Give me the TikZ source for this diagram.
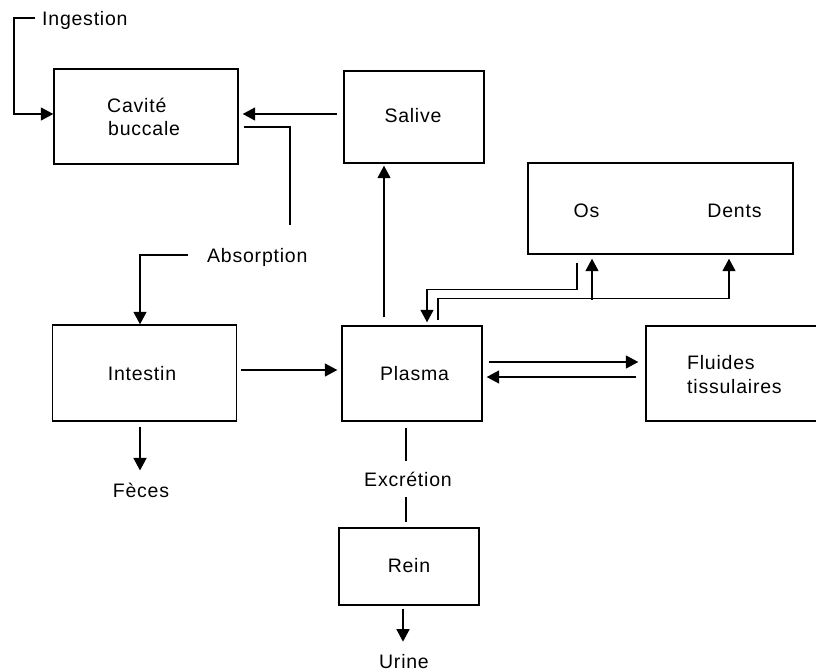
\documentclass[tikz,border=0pt]{standalone}
\usepackage{fontspec}
\newfontfamily\lbl{Liberation Sans}[LetterSpace=4]
\usetikzlibrary{arrows.meta}
\begin{document}
\begin{tikzpicture}[x=1pt,y=-1pt,
  every node/.style={font=\lbl\fontsize{19.5}{23}\selectfont, inner sep=0pt},
  box/.style={draw, line width=1.4pt},
  ln/.style={line width=1.5pt},
  arr/.style={ln, -{Triangle[length=12.5pt,width=13pt]}}]
\useasboundingbox (0,0) rectangle (816,671);

% boxes
\node[box, minimum width=184pt, minimum height=95pt] (cav) at (146,116.5) {};
\node[box, minimum width=140pt, minimum height=92pt] (sal) at (414,117) {};
\node[box, minimum width=265pt, minimum height=91pt] (osd) at (660.5,208.5) {};
\node[box, minimum width=184pt, minimum height=96pt] (int) at (144.5,373) {};
\node[box, minimum width=140pt, minimum height=95pt] (pla) at (412,373.5) {};
\node[box, minimum width=174pt, minimum height=95pt] (flu) at (733,373.5) {};
\node[box, minimum width=140pt, minimum height=77pt] (rein) at (409,566.5) {};

% texts
\node[anchor=base west] (t-ing) at (42,26) {Ingestion};
\node[anchor=base west] (t-cav1) at (107,113) {Cavité};
\node[anchor=base west] (t-cav2) at (108,136) {buccale};
\node[anchor=base] (t-sal) at (413,123) {Salive};
\node[anchor=base] (t-os) at (586.5,218) {Os};
\node[anchor=base] (t-dents) at (734.5,218) {Dents};
\node[anchor=base west] (t-abs) at (207,262) {Absorption};
\node[anchor=base] (t-int) at (142,380) {Intestin};
\node[anchor=base] (t-pla) at (414.5,380) {Plasma};
\node[anchor=base west] (t-flu1) at (687,369) {Fluides};
\node[anchor=base west] (t-flu2) at (687,393) {tissulaires};
\node[anchor=base] (t-fec) at (141,497) {Fèces};
\node[anchor=base] (t-exc) at (408,486) {Excrétion};
\node[anchor=base] (t-rein) at (409,572) {Rein};
\node[anchor=base] (t-ur) at (404,668) {Urine};

\coordinate (absend) at (290,225);

% connectors
\draw[arr] ([shift={(-7,-8)}]t-ing.base west) -- ++(-21,0) |- ([shift={(0,-2.5)}]cav.west);
\draw[arr] ([shift={(-6,-3)}]sal.west) -- ([shift={(4,-2.5)}]cav.east);
\draw[ln] ([shift={(5,10.5)}]cav.east) -| (absend);
\draw[arr] ([shift={(-19,-7)}]t-abs.base west) -| ([shift={(-4.5,0)}]int.north);
\draw[arr] ([shift={(-28,-8)}]pla.north) -- ([shift={(-30,2)}]sal.south);
\draw[arr] ([shift={(-83.5,8)}]osd.south) -- ++(0,27) -| ([shift={(15,-3)}]pla.north);
\draw[arr] ([shift={(26,-5)}]pla.north) -- ++(0,-22) -| ([shift={(68.5,4)}]osd.south);
\draw[arr] ([shift={(-68.5,45)}]osd.south) -- ([shift={(-68.5,4)}]osd.south);
\draw[arr] ([shift={(6,-11.5)}]pla.east) -- ([shift={(-7,-11.5)}]flu.west);
\draw[arr] ([shift={(-9,3.5)}]flu.west) -- ([shift={(4,3.5)}]pla.east);
\draw[arr] ([shift={(4,-3)}]int.east) -- ([shift={(-4,-3.5)}]pla.west);
\draw[arr] ([shift={(-4.5,5)}]int.south) -- ([shift={(-1,-12)}]t-fec.north);
\draw[ln] ([shift={(-6,6)}]pla.south) -- ([shift={(-2,-10)}]t-exc.north);
\draw[ln] ([shift={(-2,11)}]t-exc.south) -- ([shift={(-3,-5)}]rein.north);
\draw[arr] ([shift={(-6,3)}]rein.south) -- ([shift={(-1,-12)}]t-ur.north);
\end{tikzpicture}
\end{document}
